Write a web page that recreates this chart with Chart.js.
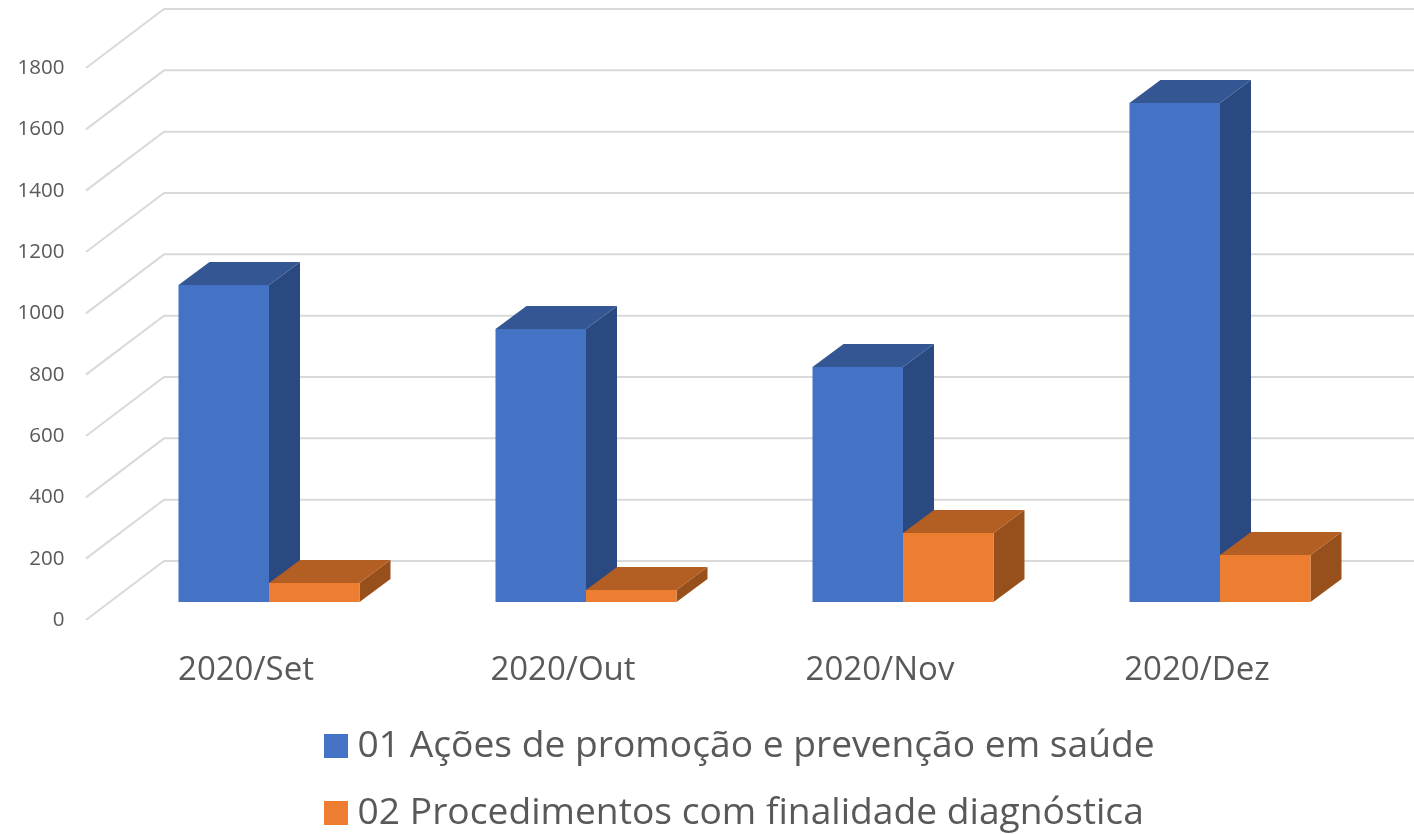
<!DOCTYPE html>
<html>
<head>
<meta charset="utf-8">
<style>html,body{margin:0;padding:0;background:#fff}canvas{display:block}</style>
<script src="https://cdn.jsdelivr.net/npm/chart.js@4"></script>
</head>
<body>
<canvas id="c" width="1414" height="834"></canvas>
<script>
const categories = ['2020/Set', '2020/Out', '2020/Nov', '2020/Dez'];
const seriesNames = ['01 Ações de promoção e prevenção em saúde', '02 Procedimentos com finalidade diagnóstica'];
const acoes = [1034, 890, 766, 1627];
const procedimentos = [62, 39, 225, 153];
const faceColors = [
  {front: '#4472c4', top: '#345793', side: '#2a4980'},
  {front: '#ed7d31', top: '#b35e22', side: '#97501c'}
];
const FONT = '"Open Sans", sans-serif';
const TEXT = '#595959';
const GRID = '#d9d9d9';

const plot = {left: 110.5, right: 1378.5, top: 50, bottom: 602};
const depth = {x: 31, y: -23};
const wall = {x: 164, dy: -41};
const front = {x: 86, dy: 18};

const scene3d = {
  id: 'scene3d',
  afterLayout(chart) {
    const lg = chart.legend;
    const pad = lg.options.labels.padding;
    lg.left = 333 - pad;
    lg.right = lg.left + 1000;
    lg.top = 727.4 - pad;
  },
  beforeDatasetsDraw(chart) {
    const {ctx, scales: {y}} = chart;
    ctx.save();
    ctx.strokeStyle = GRID;
    ctx.lineWidth = 2;
    y.ticks.forEach(t => {
      const py = y.getPixelForValue(t.value);
      ctx.beginPath();
      ctx.moveTo(front.x, py + front.dy);
      ctx.lineTo(wall.x, py + wall.dy);
      ctx.lineTo(chart.width, py + wall.dy);
      ctx.stroke();
    });
    categories.forEach((_, j) => {
      chart.data.datasets.forEach((ds, i) => {
        const b = chart.getDatasetMeta(i).data[j];
        const l = b.x - b.width / 2, r = b.x + b.width / 2, t = b.y, f = b.base;
        const c = faceColors[i];
        ctx.fillStyle = c.side;
        ctx.beginPath();
        ctx.moveTo(r, t); ctx.lineTo(r + depth.x, t + depth.y);
        ctx.lineTo(r + depth.x, f + depth.y); ctx.lineTo(r, f);
        ctx.closePath(); ctx.fill();
        ctx.fillStyle = c.top;
        ctx.beginPath();
        ctx.moveTo(l, t); ctx.lineTo(l + depth.x, t + depth.y);
        ctx.lineTo(r + depth.x, t + depth.y); ctx.lineTo(r, t);
        ctx.closePath(); ctx.fill();
      });
    });
    ctx.restore();
  }
};

new Chart(document.getElementById('c'), {
  type: 'bar',
  plugins: [scene3d],
  data: {
    labels: categories,
    datasets: [
      {label: seriesNames[0], data: acoes, backgroundColor: faceColors[0].front, borderWidth: 0},
      {label: seriesNames[1], data: procedimentos, backgroundColor: faceColors[1].front, borderWidth: 0}
    ]
  },
  options: {
    responsive: false,
    animation: false,
    events: [],
    layout: {padding: {top: plot.top, right: 1414 - plot.right, left: 0, bottom: 0}},
    datasets: {bar: {categoryPercentage: 0.571, barPercentage: 1}},
    scales: {
      x: {
        grid: {display: false, drawTicks: false},
        border: {display: false},
        ticks: {color: TEXT, font: {family: FONT, size: 33}, padding: 49, labelOffset: -23, maxRotation: 0, minRotation: 0, autoSkip: false},
        afterFit(s) { s.height = 834 - plot.bottom - s.chart.legend.height; }
      },
      y: {
        min: 0, max: 1800,
        grid: {display: false, drawTicks: false},
        border: {display: false},
        ticks: {stepSize: 200, color: TEXT, font: {family: FONT, size: 20.5}, padding: 46, labelOffset: 18, callback: v => String(v)},
        afterFit(s) { s.width = plot.left; s.paddingTop = 0; s.paddingBottom = 0; }
      }
    },
    plugins: {
      title: {display: false},
      tooltip: {enabled: false},
      legend: {
        display: true,
        position: 'bottom',
        align: 'start',
        labels: {color: TEXT, font: {family: FONT, size: 37.2}, usePointStyle: true, pointStyle: 'rect', boxWidth: 6, boxHeight: 24, padding: 29.8,
          generateLabels(chart) {
            return chart.data.datasets.map((d, i) => ({text: d.label, fillStyle: faceColors[i].front, strokeStyle: faceColors[i].front, lineWidth: 0, pointStyle: 'rect', datasetIndex: i, fontColor: TEXT}));
          }
        }
      }
    }
  }
});
</script>
</body>
</html>
